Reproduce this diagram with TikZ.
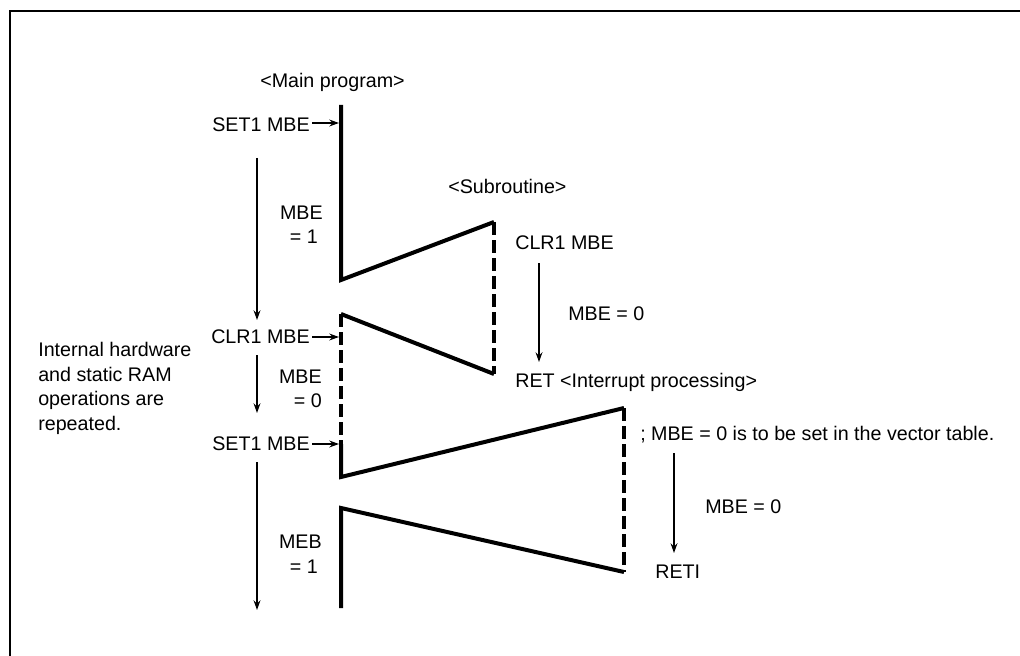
\documentclass[tikz,border=0pt]{standalone}
\usepackage{fontspec}
\setmainfont{Liberation Sans}
\usetikzlibrary{arrows.meta}
\begin{document}
\begin{tikzpicture}[x=0.025cm,y=-0.025cm,
  lbl/.style={inner sep=0pt, font=\fontsize{14}{17.4}\selectfont},
  tl/.style={line width=0.1cm, line join=miter},
  dl/.style={line width=0.1cm, dash pattern=on 0.33cm off 0.12cm},
  arr/.style={line width=0.04cm, -{Stealth[length=0.24cm,width=0.17cm]}},
  frame/.style={line width=0.07cm}]
\useasboundingbox (0,0) rectangle (1020,656);
% frame
\coordinate (fc) at (10,11);
\coordinate (fr) at (1020,11);
\coordinate (fb) at (10,656);
\draw[frame] (fr) -- (fc) -- (fb);
% time line
\coordinate (t0) at (341,105);
\coordinate (t1) at (341,280);
\coordinate (s1t) at (494,222);
\coordinate (s1b) at (494,374);
\coordinate (t2) at (341,314);
\coordinate (t3) at (341,444);
\coordinate (t4) at (341,477);
\coordinate (i1t) at (624,408);
\coordinate (i1b) at (624,572);
\coordinate (t5) at (341,508);
\coordinate (t6) at (341,608);
\draw[tl] (t0) -- (t1) -- (s1t);
\draw[dl] (s1t) -- (s1b);
\draw[tl] (s1b) -- (t2);
\draw[dl] (t2) -- (t3);
\draw[tl] (t3) -- (t4) -- (i1t);
\draw[dl] (i1t) -- (i1b);
\draw[tl] (i1b) -- (t5) -- (t6);
% main program labels
\node[lbl, anchor=base west] (mp) at (260,88) {<Main program>};
\node[lbl, anchor=base east] (set1a) at (310,132) {SET1 MBE};
\node[lbl, anchor=base east] (clr1a) at (310,343) {CLR1 MBE};
\node[lbl, anchor=base east] (set1b) at (310,450) {SET1 MBE};
\coordinate (a1) at (339,123);
\coordinate (a2) at (339,337);
\coordinate (a3) at (339,444);
\draw[arr] ([xshift=0.05cm]set1a.east |- a1) -- (a1);
\draw[arr] ([xshift=0.05cm]clr1a.east |- a2) -- (a2);
\draw[arr] ([xshift=0.05cm]set1b.east |- a3) -- (a3);
% left arrows
\coordinate (l1s) at (257,158);
\coordinate (l1e) at (257,320);
\coordinate (l2s) at (257,355);
\coordinate (l2e) at (257,413);
\coordinate (l3s) at (257,462);
\coordinate (l3e) at (257,610);
\draw[arr] (l1s) -- (l1e);
\draw[arr] (l2s) -- (l2e);
\draw[arr] (l3s) -- (l3e);
% state labels
\node[lbl, anchor=base east] (m1a) at (323,220) {MBE};
\node[lbl, anchor=base east] (m1b) at (318,243) {= 1};
\node[lbl, anchor=base east] (m0a) at (322,383) {MBE};
\node[lbl, anchor=base east] (m0b) at (322,407) {= 0};
\node[lbl, anchor=base east] (m2a) at (322,548) {MEB};
\node[lbl, anchor=base east] (m2b) at (318,573) {= 1};
% note
\node[lbl, anchor=base west, align=left] (note) at (38,430)
  {Internal hardware\\and static RAM\\operations are\\repeated.};
% subroutine
\node[lbl, anchor=base west] (sub) at (448,194) {<Subroutine>};
\node[lbl, anchor=base west] (clr1b) at (515,250) {CLR1 MBE};
\coordinate (r1s) at (539,263);
\coordinate (r1e) at (539,362);
\draw[arr] (r1s) -- (r1e);
\node[lbl, anchor=base west] (sm0) at (568,320) {MBE = 0};
\node[lbl, anchor=base west] (ret) at (515,387) {RET <Interrupt processing>};
% interrupt
\node[lbl, anchor=base west] (vec) at (640,440) {; MBE = 0 is to be set in the vector table.};
\coordinate (r2s) at (674,453);
\coordinate (r2e) at (674,553);
\draw[arr] (r2s) -- (r2e);
\node[lbl, anchor=base west] (im0) at (705,513) {MBE = 0};
\node[lbl, anchor=base west] (reti) at (655,578) {RETI};
\end{tikzpicture}
\end{document}
